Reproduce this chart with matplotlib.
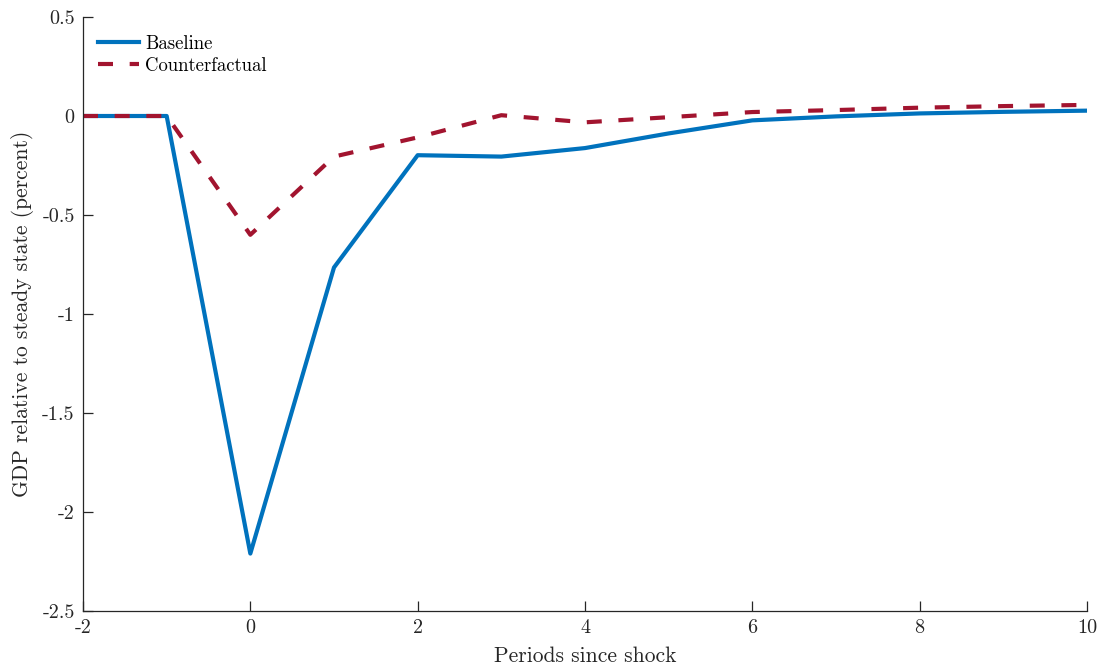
import numpy as np
import matplotlib
matplotlib.use("Agg")
import matplotlib.pyplot as plt

# Data
periods = [-2, -1, 0, 1, 2, 3, 4, 5, 6, 7, 8, 9, 10]
baseline = [0, 0, -2.21, -0.765, -0.198, -0.205, -0.162, -0.088, -0.022, -0.002, 0.013, 0.021, 0.027]
counterfactual = [0, 0, -0.60, -0.205, -0.108, 0.004, -0.032, -0.006, 0.02, 0.03, 0.042, 0.05, 0.056]
xticks = [-2, 0, 2, 4, 6, 8, 10]
yticks = [-2.5, -2, -1.5, -1, -0.5, 0, 0.5]
ytick_labels = ['-2.5', '-2', '-1.5', '-1', '-0.5', '0', '0.5']
xtick_labels = ['-2', '0', '2', '4', '6', '8', '10']

plt.rcParams['font.family'] = 'serif'
plt.rcParams['font.serif'] = ['cmr10', 'DejaVu Serif']
plt.rcParams['axes.unicode_minus'] = False
plt.rcParams['axes.formatter.use_mathtext'] = True

fig = plt.figure(figsize=(11.02, 6.69), dpi=100)
ax = fig.add_axes([83/1102, 58/669, 1004/1102, 594/669])

ax.plot(periods, baseline, color='#0072BD', lw=3, label='Baseline')
ax.plot(periods, counterfactual, color='#A2142F', lw=3, dashes=(3.6, 4.0), label='Counterfactual')

ax.set_xlim(-2, 10)
ax.set_ylim(-2.5, 0.5)
ax.set_xticks(xticks)
ax.set_xticklabels(xtick_labels)
ax.set_yticks(yticks)
ax.set_yticklabels(ytick_labels)

for s in ['top', 'right']:
    ax.spines[s].set_visible(False)
for s in ['left', 'bottom']:
    ax.spines[s].set_color('#262626')
    ax.spines[s].set_linewidth(0.9)
ax.tick_params(direction='in', length=7, width=0.9, colors='#262626', labelsize=14.5, pad=6)

ax.set_xlabel('Periods since shock', fontsize=15.5, color='#262626', labelpad=7)
ax.set_ylabel('GDP relative to steady state (percent)', fontsize=15.5, color='#262626', labelpad=6)

ax.legend(loc='upper left', frameon=False, fontsize=13.5, handlelength=2.2,
          handletextpad=0.3, labelspacing=0.2, borderaxespad=0.4,
          bbox_to_anchor=(0.0, 0.995))

fig.savefig('out.png', dpi=100)
